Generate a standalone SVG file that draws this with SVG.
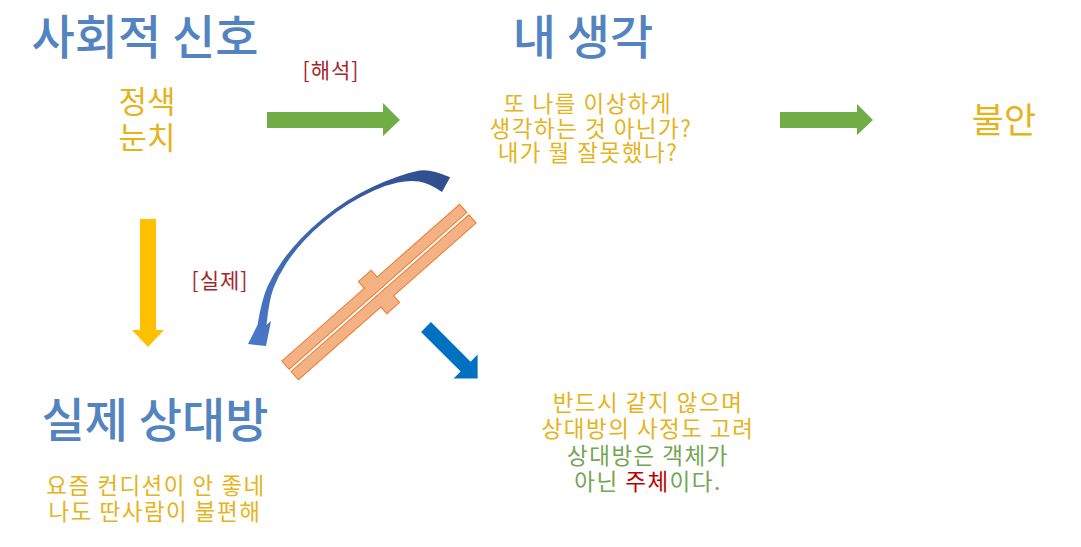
<svg xmlns="http://www.w3.org/2000/svg" width="1081" height="547" viewBox="0 0 1081 547">
  <defs>
    <linearGradient id="curveGrad" gradientUnits="userSpaceOnUse" x1="450" y1="175" x2="250" y2="345">
      <stop offset="0" stop-color="#2E4D8C"/>
      <stop offset="1" stop-color="#4A78C8"/>
    </linearGradient>
    <style>
      text { font-family: "Noto Sans CJK KR", "Noto Sans", sans-serif; text-anchor: middle; }
      .title { font-size: 47px; fill: #5384C0; font-weight: 500; }
      .yel { fill: #E5B31A; }
      .grn { fill: #74A553; }
      .red { fill: #C00000; }
      .sm { font-size: 22.5px; letter-spacing: 1.5px; }
      .lbl { font-size: 21px; fill: #A3262A; letter-spacing: 1px; }
      .green-arrow { fill: #70AD47; }
      .bar-s { fill: none; stroke: #ED7D31; stroke-width: 2; }
      .bar-f { fill: #F4B183; }
    </style>
  </defs>
  <rect width="1081" height="547" fill="#FFFFFF"/>

  <g id="node-social-signal">
    <text class="title" x="145" y="54">사회적 신호</text>
    <text class="yel" font-size="31" x="147" y="113">정색</text>
    <text class="yel" font-size="31" x="147" y="149">눈치</text>
  </g>

  <g id="node-my-thought">
    <text class="yel sm" x="588" y="112">또 나를 이상하게</text>
    <text class="yel sm" x="591" y="137">생각하는 것 아닌가?</text>
    <text class="yel sm" x="588" y="161">내가 뭘 잘못했나?</text>
    <text class="title" x="583" y="54">내 생각</text>
  </g>

  <g id="node-anxiety">
    <text class="yel" font-size="35" x="1004" y="133">불안</text>
  </g>

  <g id="node-real-other">
    <text class="title" x="155" y="437">실제 상대방</text>
    <text class="yel sm" x="156" y="494">요즘 컨디션이 안 좋네</text>
    <text class="yel sm" x="155" y="520">나도 딴사람이 불편해</text>
  </g>

  <g id="node-insight">
    <text class="yel sm" x="648" y="411">반드시 같지 않으며</text>
    <text class="yel sm" x="648" y="437">상대방의 사정도 고려</text>
    <text class="grn sm" x="648" y="464">상대방은 객체가</text>
    <text class="grn sm" x="648" y="490">아닌 <tspan class="red">주체</tspan>이다.</text>
  </g>

  <g id="node-barrier" transform="translate(379,292) rotate(-41.4)">
    <rect class="bar-s" x="-118" y="-12" width="236" height="10"/>
    <rect class="bar-s" x="-118" y="2" width="236" height="10"/>
    <rect class="bar-s" x="-8" y="-21" width="16" height="19"/>
    <rect class="bar-s" x="-8" y="2" width="16" height="19"/>
    <rect class="bar-f" x="-118" y="-12" width="236" height="10"/>
    <rect class="bar-f" x="-118" y="2" width="236" height="10"/>
    <rect class="bar-f" x="-8" y="-21" width="16" height="19"/>
    <rect class="bar-f" x="-8" y="2" width="16" height="19"/>
  </g>

  <g id="connectors">
    <polygon class="green-arrow" points="267,112 383,112 383,103 400,120 383,136 383,128 267,128"/>
    <text class="lbl" x="331" y="78">[해석]</text>
    <polygon class="green-arrow" points="780,112 857,112 857,104 873,120 857,135 857,128 780,128"/>
    <polygon fill="#FFC000" points="140,219 156,219 156,330 164,330 148,347 132,330 140,330"/>
    <text class="lbl" x="220" y="288">[실제]</text>
    <path fill="url(#curveGrad)" d="M450.1,177.3 Q430.6,168.5 419.55,170.5 Q408.5,172.5 396.7,177 Q384.9,181.2 372.45,186.9 Q360,192.6 347.5,200.45 Q335,208.3 323.25,217.9 Q311.5,227.5 301.05,238.4 Q290.6,249.3 282.15,261.2 Q273.7,273.1 267.8,285.8 Q261.9,298.5 257.5,325.1 L248,344 L266,346 L271,321 L266.5,325 Q268.9,300.5 273.6,288.1 Q278.3,275.7 286.05,263.8 Q293.8,251.9 303.85,241 Q313.9,230.1 325.45,220.7 Q337,211.3 349.35,203.55 Q361.7,195.8 374,190.4 Q386.3,185 397.9,182.55 Q409.5,180.1 419.05,181.6 Q428.6,183.1 442,192 Z"/>
    <polygon fill="#0070C0" transform="translate(426,327) rotate(45)" points="0,-7 56,-7 56,-17 73,0 56,17 56,7 0,7"/>
  </g>
</svg>
